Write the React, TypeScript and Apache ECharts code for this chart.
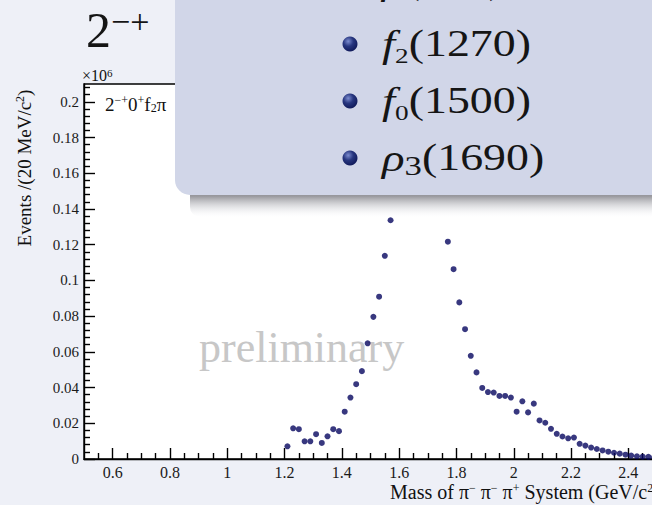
import React, { useEffect, useRef } from "react";
import * as echarts from "echarts";

// Mass bin centres (GeV/c^2), 20 MeV bins
const massBins = [
  1.21, 1.23, 1.25, 1.27, 1.29, 1.31, 1.33, 1.35, 1.37, 1.39,
  1.41, 1.43, 1.45, 1.47, 1.49, 1.51, 1.53, 1.55, 1.57, 1.59,
  1.61, 1.63, 1.65, 1.67, 1.69, 1.71, 1.73, 1.75, 1.77, 1.79,
  1.81, 1.83, 1.85, 1.87, 1.89, 1.91, 1.93, 1.95, 1.97, 1.99,
  2.01, 2.03, 2.05, 2.07, 2.09, 2.11, 2.13, 2.15, 2.17, 2.19,
  2.21, 2.23, 2.25, 2.27, 2.29, 2.31, 2.33, 2.35, 2.37, 2.39,
  2.41, 2.43, 2.45, 2.47, 2.49,
];
// Events per bin (x10^6)
const events = [
  0.0071, 0.0172, 0.0167, 0.0099, 0.0099, 0.0139, 0.009, 0.0127, 0.0167, 0.0156,
  0.0265, 0.0344, 0.0419, 0.0492, 0.0648, 0.0796, 0.0909, 0.1138, 0.1337, 0.155,
  0.171, 0.186, 0.197, 0.201, 0.196, 0.183, 0.166, 0.15, 0.1217, 0.1063,
  0.0877, 0.0727, 0.0578, 0.0485, 0.0398, 0.0375, 0.0372, 0.0353, 0.0353, 0.0344,
  0.0265, 0.0323, 0.0261, 0.031, 0.0216, 0.0203, 0.0169, 0.0141, 0.0126, 0.0116,
  0.012, 0.0085, 0.0075, 0.0064, 0.0056, 0.0048, 0.0041, 0.0035, 0.003, 0.0024,
  0.0019, 0.0015, 0.0013, 0.0012, 0.001,
];

const xMajorTicks = [0.6, 0.8, 1.0, 1.2, 1.4, 1.6, 1.8, 2.0, 2.2, 2.4];
const xMinorTicks = [
  0.55, 0.65, 0.7, 0.75, 0.85, 0.9, 0.95, 1.05, 1.1, 1.15, 1.25, 1.3, 1.35,
  1.45, 1.5, 1.55, 1.65, 1.7, 1.75, 1.85, 1.9, 1.95, 2.05, 2.1, 2.15, 2.25,
  2.3, 2.35, 2.45,
];
const yMajorTicks = [0, 0.02, 0.04, 0.06, 0.08, 0.1, 0.12, 0.14, 0.16, 0.18, 0.2];
const yMinorTicks = [
  0.004, 0.008, 0.012, 0.016, 0.024, 0.028, 0.032, 0.036, 0.044, 0.048, 0.052,
  0.056, 0.064, 0.068, 0.072, 0.076, 0.084, 0.088, 0.092, 0.096, 0.104, 0.108,
  0.112, 0.116, 0.124, 0.128, 0.132, 0.136, 0.144, 0.148, 0.152, 0.156, 0.164,
  0.168, 0.172, 0.176, 0.184, 0.188, 0.192, 0.196, 0.204, 0.208,
];

const resonances = [
  { name: "ρ", sub: "", mass: "(770)" },
  { name: "f", sub: "2", mass: "(1270)" },
  { name: "f", sub: "0", mass: "(1500)" },
  { name: "ρ", sub: "3", mass: "(1690)" },
];

const SERIF = "Liberation Serif";
const fmt = (v: number) => (v === 0 ? "0" : String(+v.toFixed(3)));

export default function App() {
  const ref = useRef<HTMLDivElement>(null);
  useEffect(() => {
    if (!ref.current) return;
    const chart = echarts.init(ref.current, undefined, { renderer: "svg" });
    const tickLine = { color: "#000", width: 1.4 };

    const rowYs = [-19, 44, 101, 158];
    const overlay: any[] = [];
    overlay.push({
      type: "rect",
      z: 99,
      shape: { x: 190, y: 183, width: 480, height: 34, r: 10 },
      style: {
        fill: new echarts.graphic.LinearGradient(0, 0, 0, 1, [
          { offset: 0, color: "rgba(80,80,85,0.95)" },
          { offset: 0.4, color: "rgba(115,115,122,0.7)" },
          { offset: 1, color: "rgba(230,232,240,0)" },
        ]),
      },
    });
    overlay.push({
      type: "rect",
      z: 100,
      shape: { x: 175, y: -40, width: 520, height: 235, r: 15 },
      style: { fill: "#d1d6e8" },
    });
    resonances.forEach((r, i) => {
      const cy = rowYs[i];
      overlay.push({
        type: "circle",
        z: 101,
        shape: { cx: 350, cy, r: 7.5 },
        style: {
          fill: new echarts.graphic.RadialGradient(0.38, 0.32, 0.75, [
            { offset: 0, color: "#7c8ccf" },
            { offset: 0.45, color: "#27367f" },
            { offset: 1, color: "#0d1655" },
          ]),
        },
      });
      const subText = r.sub ? `{s|${r.sub}}` : "";
      overlay.push({
        type: "text",
        z: 101,
        x: 382,
        y: cy,
        scaleX: 1.24,
        style: {
          text: `{i|${r.name}}${subText}{n|${r.mass}}`,
          verticalAlign: "middle",
          align: "left",
          rich: {
            i: { fontFamily: SERIF, fontStyle: "italic", fontSize: 38, fill: "#151515", lineHeight: 44, verticalAlign: "middle" },
            s: { fontFamily: SERIF, fontSize: r.name === "ρ" ? 28 : 22, fill: "#151515", lineHeight: 44, verticalAlign: "bottom" },
            n: { fontFamily: SERIF, fontSize: 37, fill: "#151515", lineHeight: 44, verticalAlign: "middle" },
          },
        },
      });
    });

    const option: any = {
      animation: false,
      backgroundColor: "#eef0f7",
      grid: {
        left: 84,
        top: 84,
        width: 573,
        height: 375,
        show: true,
        backgroundColor: "#ffffff",
        borderColor: "#000",
        borderWidth: 1.4,
        containLabel: false,
        outerBoundsMode: "none",
      },
      xAxis: [
        {
          type: "value",
          min: 0.5,
          max: 2.5,
          position: "bottom",
          axisLine: { show: true, onZero: false, lineStyle: tickLine },
          axisTick: { show: true, inside: true, length: 11, customValues: xMajorTicks, lineStyle: tickLine },
          axisLabel: {
            show: true,
            customValues: xMajorTicks,
            formatter: (v: number) => fmt(v),
            color: "#1a1a1a",
            fontFamily: SERIF,
            fontSize: 16,
            margin: 5,
          },
          splitLine: { show: false },
        },
        {
          type: "value",
          min: 0.5,
          max: 2.5,
          position: "bottom",
          axisLine: { show: false, onZero: false },
          axisTick: { show: true, inside: true, length: 6, customValues: xMinorTicks, lineStyle: tickLine },
          axisLabel: { show: false },
          splitLine: { show: false },
        },
      ],
      yAxis: [
        {
          type: "value",
          min: 0,
          max: 0.21,
          position: "left",
          axisLine: { show: true, onZero: false, lineStyle: tickLine },
          axisTick: { show: true, inside: true, length: 11, customValues: yMajorTicks, lineStyle: tickLine },
          axisLabel: {
            show: true,
            customValues: yMajorTicks,
            formatter: (v: number) => fmt(v),
            color: "#1a1a1a",
            fontFamily: SERIF,
            fontSize: 15,
            margin: 5,
          },
          splitLine: { show: false },
        },
        {
          type: "value",
          min: 0,
          max: 0.21,
          position: "left",
          axisLine: { show: false, onZero: false },
          axisTick: { show: true, inside: true, length: 6, customValues: yMinorTicks, lineStyle: tickLine },
          axisLabel: { show: false },
          splitLine: { show: false },
        },
      ],
      series: [
        {
          type: "scatter",
          xAxisIndex: 0,
          yAxisIndex: 0,
          symbol: "circle",
          symbolSize: 6,
          itemStyle: { color: "#06065f" },
          data: massBins.map((m, i) => [m, events[i]]),
          z: 3,
        },
      ],
      graphic: [
        {
          type: "text",
          z: 1,
          x: 199,
          y: 347,
          style: {
            text: "preliminary",
            font: `44px "${SERIF}"`,
            fill: "#c7c7c7",
            align: "left",
            verticalAlign: "middle",
          },
        },
        {
          type: "text",
          z: 5,
          x: 105,
          y: 104,
          style: {
            text: "{n|2}{u|−+}{n|0}{u|+}{n|f}{d|2}{n|π}",
            align: "left",
            verticalAlign: "middle",
            rich: {
              n: { fontFamily: SERIF, fontSize: 19, fill: "#111", lineHeight: 20, verticalAlign: "middle" },
              u: { fontFamily: SERIF, fontSize: 12, fill: "#111", lineHeight: 20, verticalAlign: "top" },
              d: { fontFamily: SERIF, fontSize: 12, fill: "#111", lineHeight: 20, verticalAlign: "bottom" },
            },
          },
        },
        {
          type: "text",
          z: 5,
          x: 82,
          y: 75,
          style: {
            text: "{n|×10}{u|6}",
            align: "left",
            verticalAlign: "middle",
            rich: {
              n: { fontFamily: SERIF, fontSize: 16, fill: "#111", lineHeight: 16, verticalAlign: "middle" },
              u: { fontFamily: SERIF, fontSize: 11, fill: "#111", lineHeight: 16, verticalAlign: "top" },
            },
          },
        },
        {
          type: "text",
          z: 5,
          x: 24,
          y: 168,
          rotation: Math.PI / 2,
          style: {
            text: "{n|Events /(20 MeV/c}{u|2}{n|)}",
            align: "center",
            verticalAlign: "middle",
            rich: {
              n: { fontFamily: SERIF, fontSize: 19, fill: "#111", lineHeight: 20, verticalAlign: "middle" },
              u: { fontFamily: SERIF, fontSize: 12, fill: "#111", lineHeight: 20, verticalAlign: "top" },
            },
          },
        },
        {
          type: "text",
          z: 5,
          x: 390,
          y: 492,
          style: {
            text: "{n|Mass of π}{u|−}{n| π}{u|−}{n| π}{u|+}{n| System (GeV/c}{u|2}{n|)}",
            align: "left",
            verticalAlign: "middle",
            rich: {
              n: { fontFamily: SERIF, fontSize: 20, fill: "#111", lineHeight: 20, verticalAlign: "middle" },
              u: { fontFamily: SERIF, fontSize: 12, fill: "#111", lineHeight: 20, verticalAlign: "top" },
            },
          },
        },
        {
          type: "text",
          z: 5,
          x: 86,
          y: 30,
          style: {
            text: "{n|2}{u|−+}",
            align: "left",
            verticalAlign: "middle",
            rich: {
              n: { fontFamily: SERIF, fontSize: 50, fill: "#151515", lineHeight: 52, verticalAlign: "middle" },
              u: { fontFamily: SERIF, fontSize: 34, fill: "#151515", lineHeight: 50, verticalAlign: "top" },
            },
          },
        },
        ...overlay,
      ],
    };
    chart.setOption(option);
    return () => chart.dispose();
  }, []);
  return (
    <div
      ref={ref}
      style={{ position: "fixed", left: 0, top: 0, width: 652, height: 505 }}
    />
  );
}
